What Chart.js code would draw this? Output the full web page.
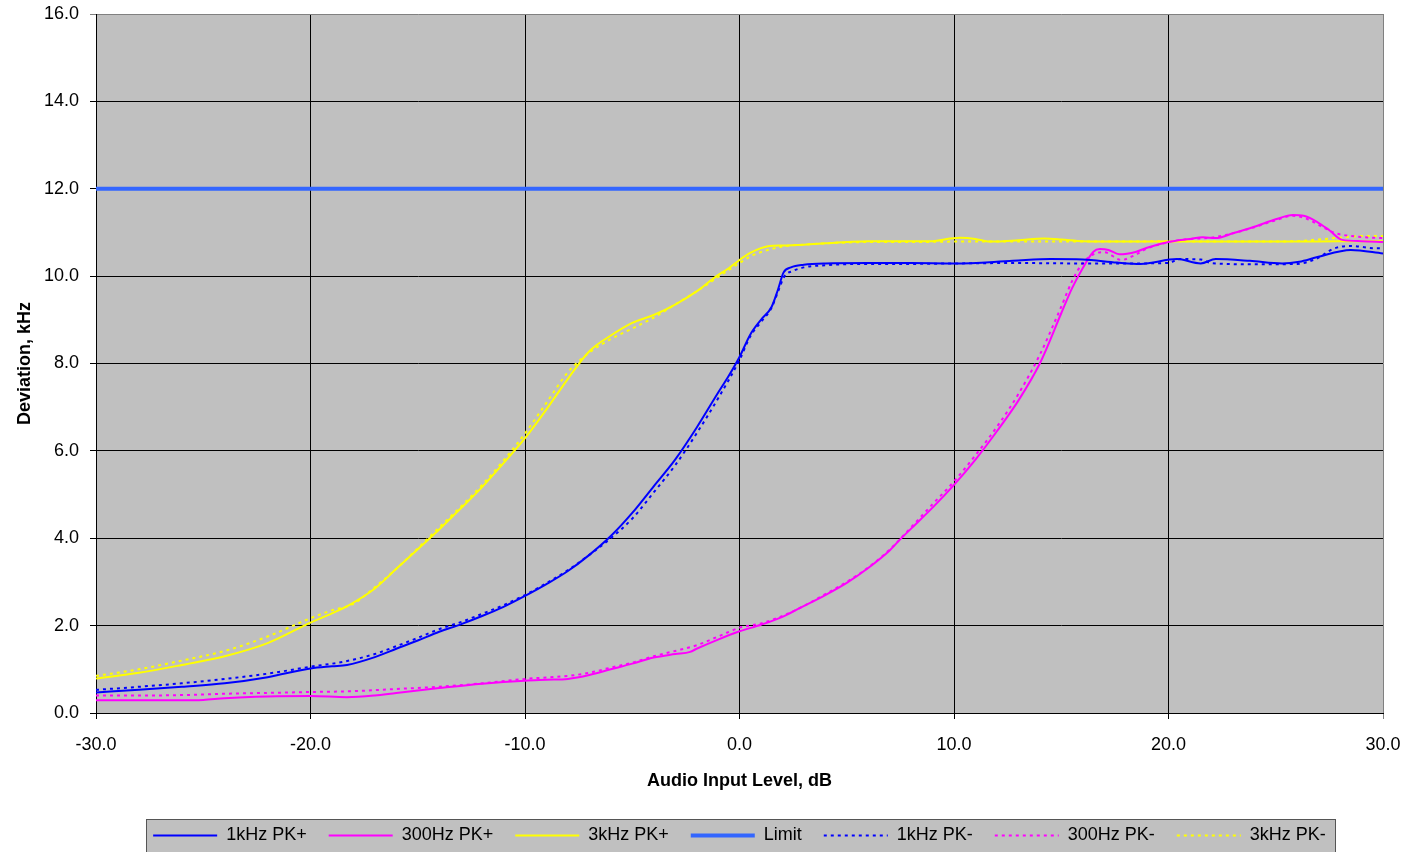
<!DOCTYPE html>
<html>
<head>
<meta charset="utf-8">
<title>Deviation vs Audio Input Level</title>
<script src="https://cdn.jsdelivr.net/npm/chart.js@4/dist/chart.umd.min.js"></script>
<style>
  html, body { margin: 0; padding: 0; background: #ffffff; }
  #wrap { width: 1422px; height: 852px; }
</style>
</head>
<body>
<div id="wrap"><canvas id="chart" width="1422" height="852"></canvas></div>
<script>
// Measured deviation (kHz) against audio input level (dB), as [level, deviation] pairs.
const dev1kPos = [
  [-30,0.47],[-28,0.53],[-26,0.6],[-24,0.68],[-22,0.82],[-20,1.02],[-19,1.07],[-18.3,1.10],
  [-17,1.28],[-16,1.47],[-15,1.66],[-14,1.86],[-13,2.03],[-12,2.22],[-11,2.43],[-10,2.68],
  [-9,2.95],[-8,3.25],[-7,3.62],[-6,4.05],[-5,4.58],[-4,5.19],[-3,5.8],[-2,6.53],[-1,7.33],
  [-0.5,7.72],[0,8.15],[0.5,8.66],[1,9.0],[1.5,9.3],[1.8,9.7],[2.05,10.08],[2.4,10.2],[3,10.26],
  [4,10.29],[6,10.3],[8,10.3],[10,10.29],[12.75,10.35],[14.5,10.39],[16,10.38],[17.6,10.31],
  [18.7,10.28],[20.4,10.39],[21.5,10.29],[22.2,10.39],[23.8,10.35],[25.3,10.29],[26.1,10.33],
  [26.9,10.43],[28.5,10.6],[30,10.52]
];
const dev300Pos = [
  [-30,0.29],[-28,0.29],[-26,0.29],[-25,0.3],[-24,0.34],[-22,0.38],[-20,0.39],[-18.3,0.36],
  [-17,0.4],[-16,0.46],[-14,0.57],[-12,0.67],[-10,0.74],[-9,0.76],[-8,0.78],[-7,0.87],[-6,1.0],
  [-5,1.13],[-4,1.27],[-3,1.35],[-2.3,1.4],[-2,1.47],[-1,1.68],[0,1.87],[1,2.02],[2,2.2],
  [2.8,2.4],[4,2.7],[5,2.98],[6,3.32],[7,3.72],[7.5,3.98],[8,4.22],[9,4.7],[10,5.22],[11,5.8],
  [12,6.45],[13,7.15],[14,8.0],[15,9.15],[15.5,9.72],[16,10.18],
  [16.5,10.56],[16.8,10.62],[17.2,10.6],[17.7,10.5],[18.5,10.56],[19,10.65],[20,10.78],
  [21,10.85],[21.6,10.89],[22.2,10.87],[23,10.98],[24,11.13],[25,11.3],[25.8,11.4],[26.3,11.38],
  [26.9,11.25],[27.5,11.05],[28.1,10.83],[29,10.8],[30,10.78]
];
const dev3kPos = [
  [-30,0.79],[-28,0.92],[-26,1.1],[-24,1.3],[-22,1.6],[-20,2.07],[-19,2.28],[-18.2,2.47],
  [-17,2.85],[-16,3.3],[-15,3.75],[-14,4.2],[-13,4.68],[-12,5.17],[-11,5.72],
  [-10,6.29],[-9,6.95],[-8,7.65],[-7,8.28],[-6,8.64],[-5,8.93],
  [-4,9.11],[-3,9.35],[-2,9.65],[-1.1,9.99],[-0.5,10.18],[0,10.37],[0.5,10.53],[1,10.64],
  [1.4,10.69],[2,10.7],[3,10.72],[4,10.75],[5,10.78],[6,10.8],[8,10.8],[9,10.8],[9.8,10.86],
  [10.3,10.88],[11,10.85],[11.5,10.8],[12,10.79],[13,10.82],[14.2,10.86],[15,10.84],[16,10.8],
  [18,10.79],[20,10.79],[22,10.79],[24,10.79],[26,10.79],[28,10.8],[30,10.8]
];
const limitDev = [[-30,12],[30,12]];
const dev1kNeg = [
  [-30,0.53],[-28,0.6],[-26,0.68],[-24,0.78],[-22,0.9],[-20,1.06],[-18.5,1.17],[-17,1.35],
  [-16,1.53],[-15,1.72],[-14,1.92],[-13,2.08],[-12,2.27],[-11,2.47],[-10,2.7],[-9,2.97],
  [-8,3.27],[-7,3.62],[-6,4.0],[-5,4.45],[-4,5.05],[-3,5.67],[-2,6.4],[-1,7.2],[0,8.08],
  [0.5,8.62],[1,8.95],[1.5,9.28],[1.8,9.65],[2.1,10.0],[2.5,10.12],[3,10.2],[4,10.25],
  [6,10.28],[8,10.28],[10,10.29],[13,10.3],[16,10.29],[18,10.29],[20,10.3],[20.5,10.39],
  [21.5,10.38],[22,10.3],[24,10.27],[26,10.28],[26.9,10.4],[27.7,10.63],[28.5,10.69],
  [29.6,10.64],[30,10.64]
];
const dev300Neg = [
  [-30,0.4],[-28,0.4],[-26,0.41],[-24,0.44],[-22,0.46],[-20,0.48],[-18,0.5],[-16,0.55],
  [-14,0.6],[-12,0.68],[-10,0.78],[-8,0.85],[-7,0.92],[-6,1.04],[-5,1.15],[-4,1.3],[-3,1.42],
  [-2,1.55],[-1,1.75],[0,1.95],[1,2.05],[2,2.22],[3,2.45],[4,2.72],[5,3.0],[6,3.33],[7,3.74],
  [8,4.25],[9,4.78],[10,5.3],[11,5.9],[12,6.55],[13,7.3],[14,8.2],[15,9.3],[15.5,9.88],
  [16,10.3],[16.5,10.5],[17,10.55],[17.8,10.37],[18.5,10.5],[19,10.63],[20,10.78],[21,10.85],
  [22,10.88],[23,10.98],[24,11.12],[25,11.28],[25.8,11.38],[26.5,11.3],[27.2,11.12],
  [27.8,10.98],[28.5,10.92],[29.5,10.88],[30,10.87]
];
const dev3kNeg = [
  [-30,0.85],[-28,1.0],[-26,1.2],[-24,1.42],[-22,1.75],[-20,2.17],[-19,2.35],[-18,2.5],
  [-17,2.88],[-16,3.3],[-15,3.77],[-14,4.25],[-13,4.72],[-12,5.22],[-11,5.78],[-10,6.4],
  [-9,7.1],[-8,7.8],[-7,8.25],[-6,8.56],[-5,8.8],[-4,9.05],[-3,9.35],[-2,9.65],[-1,9.98],
  [0,10.3],[0.5,10.45],[1,10.55],[1.5,10.62],[2,10.68],[3,10.72],[4,10.75],[6,10.78],
  [8,10.78],[10,10.79],[12,10.79],[14,10.79],[16,10.79],[18,10.79],[20,10.8],[22,10.79],
  [24,10.79],[26,10.8],[27,10.84],[28,10.88],[29,10.92],[30,10.92]
];

const seriesNames = ['1kHz PK+', '300Hz PK+', '3kHz PK+', 'Limit', '1kHz PK-', '300Hz PK-', '3kHz PK-'];
const xTicks = [-30, -20, -10, 0, 10, 20, 30];
const yTicks = [0, 2, 4, 6, 8, 10, 12, 14, 16];

const FONT = "'Liberation Sans', Arial, Helvetica, sans-serif";
Chart.defaults.font.family = FONT;
Chart.defaults.font.size = 18;
Chart.defaults.color = '#000000';

const DOTTED = [3, 4];

function series(label, pairs, color, width, dash, smooth) {
  return {
    label,
    data: pairs.map(([x, y]) => ({ x, y })),
    borderColor: color,
    backgroundColor: color,
    borderWidth: width,
    borderDash: dash,
    borderCapStyle: 'butt',
    pointRadius: 0,
    pointHoverRadius: 0,
    fill: false,
    cubicInterpolationMode: smooth ? 'monotone' : 'default',
    tension: 0
  };
}

const datasets = [
  series(seriesNames[0], dev1kPos, '#0000FF', 2, [], true),
  series(seriesNames[1], dev300Pos, '#FF00FF', 2, [], true),
  series(seriesNames[2], dev3kPos, '#FFFF00', 2, [], true),
  series(seriesNames[3], limitDev, '#3366FF', 4, [], false),
  series(seriesNames[4], dev1kNeg, '#0000FF', 2, DOTTED, true),
  series(seriesNames[5], dev300Neg, '#FF00FF', 2, DOTTED, true),
  series(seriesNames[6], dev3kNeg, '#FFFF00', 2, DOTTED, true)
];

// Grey plot area and the framed grey legend panel.
const panels = {
  id: 'panels',
  beforeDraw(chart) {
    const { ctx, chartArea: a } = chart;
    ctx.save();
    ctx.fillStyle = '#C0C0C0';
    ctx.fillRect(a.left, a.top, a.right - a.left, a.bottom - a.top);
    const boxes = chart.legend && chart.legend.legendHitBoxes;
    if (boxes && boxes.length) {
      const l = Math.round(Math.min(...boxes.map(b => b.left)) - 7);
      const r = Math.round(Math.max(...boxes.map(b => b.left + b.width)) + 9);
      const cy = boxes[0].top + boxes[0].height / 2;
      const t = Math.round(cy - 17);
      const btm = Math.round(cy + 16);
      ctx.fillStyle = '#C0C0C0';
      ctx.fillRect(l, t, r - l, btm - t);
      ctx.strokeStyle = '#555555';
      ctx.lineWidth = 1;
      ctx.strokeRect(l + 0.5, t + 0.5, r - l, btm - t);
    }
    ctx.restore();
  }
};

// Axes keep a fixed size; edge labels are allowed to overhang.
function noEdgePadding(s) {
  s.paddingTop = 0;
  s.paddingBottom = 0;
  s.paddingLeft = 0;
  s.paddingRight = 0;
}

new Chart(document.getElementById('chart'), {
  type: 'line',
  data: { datasets },
  plugins: [panels],
  options: {
    responsive: false,
    animation: false,
    events: [],
    layout: { autoPadding: false, padding: { left: 0, right: 39, top: 14, bottom: -2.5 } },
    plugins: {
      tooltip: { enabled: false },
      title: { display: false },
      legend: {
        position: 'bottom',
        fullSize: false,
        labels: {
          usePointStyle: true,
          pointStyle: 'line',
          pointStyleWidth: 64,
          padding: 22,
          color: '#000000',
          font: { size: 18, family: FONT },
          generateLabels(chart) {
            const items = Chart.defaults.plugins.legend.labels.generateLabels(chart);
            items.forEach(it => {
              const ds = chart.data.datasets[it.datasetIndex];
              it.lineDash = ds.borderDash;
              it.lineWidth = ds.borderWidth;
              it.strokeStyle = ds.borderColor;
              it.lineCap = 'butt';
              it.pointStyle = 'line';
            });
            return items;
          }
        }
      }
    },
    scales: {
      x: {
        type: 'linear',
        min: -30,
        max: 30,
        afterBuildTicks(s) { s.ticks = xTicks.map(v => ({ value: v })); },
        afterFit(s) { s.height = 91.5; noEdgePadding(s); },
        ticks: {
          callback: v => Number(v).toFixed(1),
          padding: 15,
          maxRotation: 0,
          autoSkip: false,
          color: '#000000',
          font: { size: 18 }
        },
        grid: {
          color: c => (c.tick && c.tick.value === 30 ? '#808080' : '#000000'),
          lineWidth: 1,
          tickLength: 6,
          drawTicks: true
        },
        border: { display: true, color: '#000000', width: 1 },
        title: {
          display: true,
          text: 'Audio Input Level, dB',
          color: '#000000',
          font: { size: 18, weight: 'bold' },
          padding: { top: 0, bottom: 12.7 }
        }
      },
      y: {
        type: 'linear',
        min: 0,
        max: 16,
        afterBuildTicks(s) { s.ticks = yTicks.map(v => ({ value: v })); },
        afterFit(s) { s.width = 96; noEdgePadding(s); },
        ticks: {
          callback: v => Number(v).toFixed(1),
          padding: 11,
          color: '#000000',
          font: { size: 18 }
        },
        grid: {
          color: c => (c.tick && c.tick.value === 16 ? '#808080' : '#000000'),
          lineWidth: 1,
          tickLength: 6,
          drawTicks: true
        },
        border: { display: true, color: '#000000', width: 1 },
        title: {
          display: true,
          text: 'Deviation, kHz',
          color: '#000000',
          font: { size: 18, weight: 'bold' },
          padding: { top: 14, bottom: 0 }
        }
      }
    }
  }
});
</script>
</body>
</html>
